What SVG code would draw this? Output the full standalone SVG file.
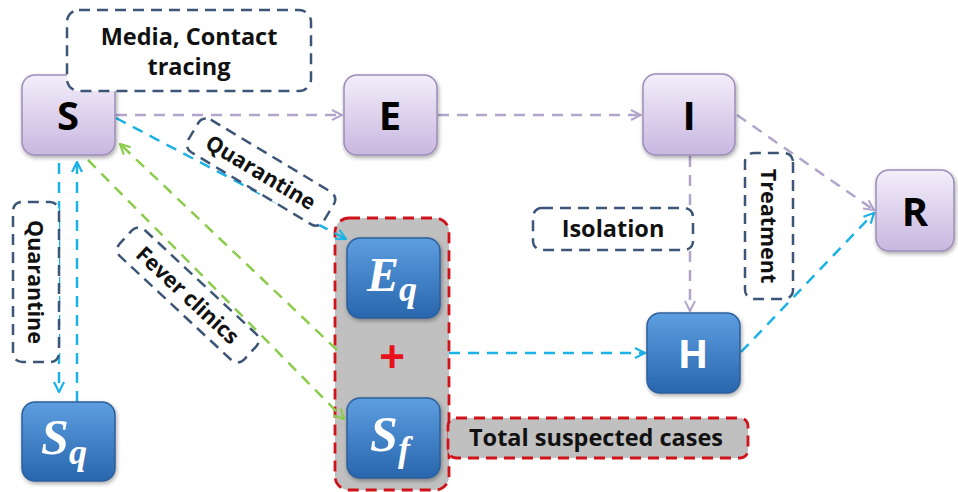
<svg xmlns="http://www.w3.org/2000/svg" width="958" height="492" viewBox="0 0 958 492">
<style>
.lbl{fill:#fff;stroke:#3d5677;stroke-width:2.5;stroke-dasharray:11 7}
.lt{font-family:"Open Sans","Liberation Sans",sans-serif;font-weight:700;font-size:23.5px;fill:#111}
.lr{font-size:21.5px}
.pn{stroke:#9d8db8;stroke-width:1.5;fill:url(#gp)}
.bn{stroke:#2c5f9c;stroke-width:1.5;fill:url(#gb)}
.pt{font-family:"Open Sans","Liberation Sans",sans-serif;font-weight:700;font-size:40px;fill:#000}
.bt{font-family:"Liberation Serif",serif;font-weight:700;font-style:italic;fill:#fff}
.cp{fill:none;stroke:#b2a5cc;stroke-width:2.5;stroke-dasharray:11 8}
.cc{fill:none;stroke:#1cb2e6;stroke-width:2.5;stroke-dasharray:11 8}
.cg{fill:none;stroke:#8ccc4c;stroke-width:2.5;stroke-dasharray:11 8}
</style>
<defs>
<linearGradient id="gp" x1="0" y1="0" x2="0" y2="1"><stop offset="0" stop-color="#f3eefa"/><stop offset="1" stop-color="#c8b7e0"/></linearGradient>
<linearGradient id="gb" x1="0" y1="0" x2="0" y2="1"><stop offset="0" stop-color="#5d9ee0"/><stop offset="1" stop-color="#2966ad"/></linearGradient>
<filter id="sh" x="-20%" y="-20%" width="140%" height="140%"><feDropShadow dx="1" dy="2" stdDeviation="2" flood-opacity="0.35"/></filter>
<marker id="ap" viewBox="0 0 12 12" refX="11" refY="6" markerWidth="12" markerHeight="12" markerUnits="userSpaceOnUse" orient="auto"><path d="M1,1 L11,6 L1,11" fill="none" stroke="#b2a5cc" stroke-width="2"/></marker>
<marker id="ac" viewBox="0 0 12 12" refX="11" refY="6" markerWidth="12" markerHeight="12" markerUnits="userSpaceOnUse" orient="auto"><path d="M1,1 L11,6 L1,11" fill="none" stroke="#1cb2e6" stroke-width="2.2"/></marker>
<marker id="ag" viewBox="0 0 12 12" refX="11" refY="6" markerWidth="12" markerHeight="12" markerUnits="userSpaceOnUse" orient="auto"><path d="M1,1 L11,6 L1,11" fill="none" stroke="#8ccc4c" stroke-width="2.2"/></marker>
</defs>
<rect width="958" height="492" fill="#fff"/>

<g id="group-suspected">
<rect x="335" y="218" width="114" height="272" rx="14" fill="#c0c0c0" stroke="#d0121b" stroke-width="2.8" stroke-dasharray="11 7"/>
<text x="392" y="372" font-family="Liberation Sans,sans-serif" font-weight="700" font-size="44" fill="#e8101a" text-anchor="middle">+</text>
</g>
<g id="total-label">
<rect x="448" y="418" width="300" height="40" rx="8" fill="#c0c0c0" stroke="#d0121b" stroke-width="2.8" stroke-dasharray="11 7"/>
<text class="lt" x="596" y="446" text-anchor="middle">Total suspected cases</text>
</g>

<g id="connectors">
<line class="cp" x1="116" y1="115" x2="342" y2="115" marker-end="url(#ap)"/>
<line class="cp" x1="438" y1="115" x2="641" y2="115" marker-end="url(#ap)"/>
<line class="cp" x1="737" y1="115" x2="874" y2="210" marker-end="url(#ap)"/>
<line class="cp" x1="690" y1="156" x2="690" y2="311" marker-end="url(#ap)"/>
<line class="cc" x1="116" y1="118" x2="346" y2="239" marker-end="url(#ac)"/>
<line class="cc" x1="59" y1="163" x2="59" y2="392" marker-end="url(#ac)"/>
<line class="cc" x1="77" y1="402" x2="77" y2="162" marker-end="url(#ac)"/>
<line class="cg" x1="88" y1="160" x2="344" y2="419" marker-end="url(#ag)"/>
<line class="cg" x1="337" y1="350" x2="120" y2="144" marker-end="url(#ag)"/>
<line class="cc" x1="449" y1="353" x2="645" y2="353" marker-end="url(#ac)"/>
<line class="cc" x1="741" y1="352" x2="874" y2="213" marker-end="url(#ac)"/>
</g>

<g id="node-S"><rect class="pn" x="22" y="75" width="93" height="80" rx="13" filter="url(#sh)"/><text class="pt" x="68" y="130" text-anchor="middle">S</text></g>
<g id="node-E"><rect class="pn" x="344" y="75" width="93" height="80" rx="13" filter="url(#sh)"/><text class="pt" x="390" y="130" text-anchor="middle">E</text></g>
<g id="node-I"><rect class="pn" x="643" y="74" width="92" height="81" rx="13" filter="url(#sh)"/><text class="pt" x="689" y="130" text-anchor="middle">I</text></g>
<g id="node-R"><rect class="pn" x="876" y="170" width="78" height="81" rx="13" filter="url(#sh)"/><text class="pt" x="915" y="226" text-anchor="middle">R</text></g>
<g id="node-H"><rect class="bn" x="647" y="313" width="93" height="80" rx="13" filter="url(#sh)"/><text class="pt" x="693" y="368" text-anchor="middle" style="fill:#fff">H</text></g>
<g id="node-Sq"><rect class="bn" x="22" y="402" width="93" height="79" rx="13" filter="url(#sh)"/><text class="bt" x="64" y="454" text-anchor="middle"><tspan font-size="50">S</tspan><tspan font-size="36" dy="10">q</tspan></text></g>
<g id="node-Eq"><rect class="bn" x="347" y="238" width="93" height="80" rx="13" filter="url(#sh)"/><text class="bt" x="392" y="291" text-anchor="middle"><tspan font-size="48">E</tspan><tspan font-size="36" dy="10">q</tspan></text></g>
<g id="node-Sf"><rect class="bn" x="347" y="398" width="93" height="80" rx="13" filter="url(#sh)"/><text class="bt" x="390" y="451" text-anchor="middle"><tspan font-size="50">S</tspan><tspan font-size="36" dy="10">f</tspan></text></g>

<g id="label-media"><rect class="lbl" x="67" y="10" width="244" height="81" rx="12"/><text class="lt" x="189" y="45" text-anchor="middle">Media, Contact</text><text class="lt" x="189" y="75" text-anchor="middle">tracing</text></g>
<g id="label-quarantine1" transform="translate(261,172) rotate(31)"><rect class="lbl" x="-79" y="-19" width="158" height="38" rx="9"/><text class="lt lr" x="0" y="8" text-anchor="middle">Quarantine</text></g>
<g id="label-fever" transform="translate(188,295) rotate(43)"><rect class="lbl" x="-85" y="-18" width="170" height="36" rx="9"/><text class="lt lr" x="0" y="8" text-anchor="middle">Fever clinics</text></g>
<g id="label-quarantine2" transform="translate(36,282) rotate(90)"><rect class="lbl" x="-80" y="-23" width="160" height="46" rx="9"/><text class="lt lr" x="0" y="8" text-anchor="middle">Quarantine</text></g>
<g id="label-isolation"><rect class="lbl" x="533" y="208" width="160" height="42" rx="9"/><text class="lt" x="613" y="237" text-anchor="middle">Isolation</text></g>
<g id="label-treatment" transform="translate(769,226) rotate(90)"><rect class="lbl" x="-73" y="-24" width="146" height="48" rx="9"/><text class="lt lr" x="0" y="8" text-anchor="middle">Treatment</text></g>
</svg>
